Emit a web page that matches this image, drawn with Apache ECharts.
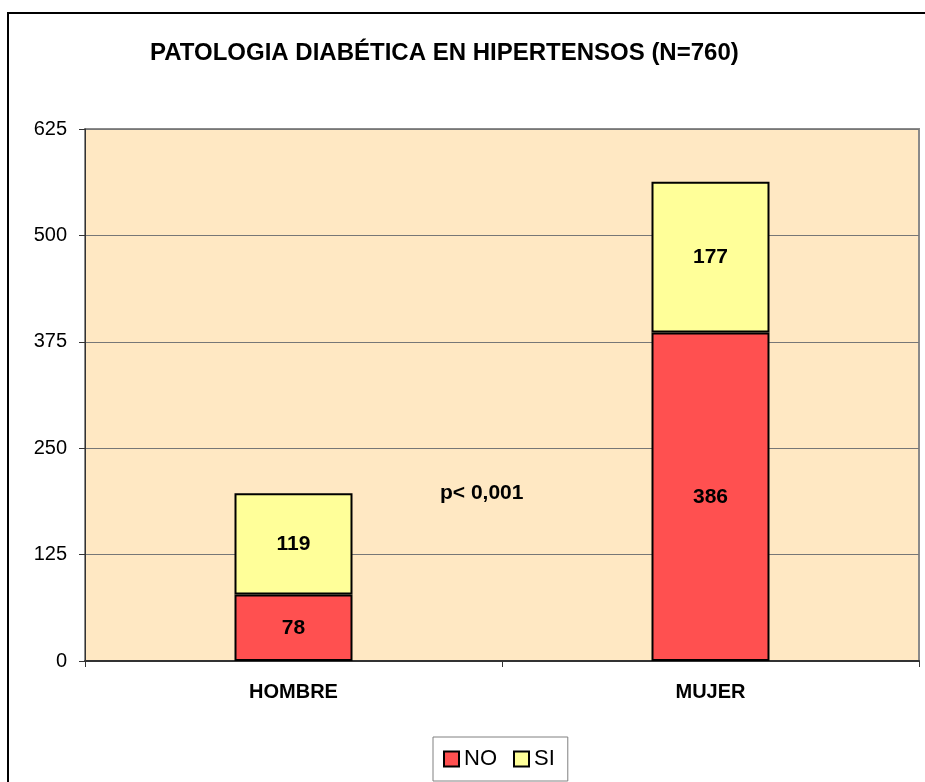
<!DOCTYPE html>
<html>
<head>
<meta charset="utf-8">
<title>Patologia diabética en hipertensos</title>
<script src="https://cdn.jsdelivr.net/npm/echarts@6/dist/echarts.min.js"></script>
<style>
  html, body { margin: 0; padding: 0; background: #fff; }
  #chart { width: 925px; height: 782px; }
</style>
</head>
<body>
<div id="chart"></div>
<script>
// datos
const categorias = ["HOMBRE", "MUJER"];
const serieNo = [78, 386];
const serieSi = [119, 177];
const ticksY = [0, 125, 250, 375, 500, 625];
const nota = "p< 0,001";

const fuente = "'Liberation Sans', Arial, sans-serif";

const chart = echarts.init(document.getElementById("chart"));

const options = {
  animation: false,
  backgroundColor: "#fff",
  title: {
    text: "PATOLOGIA DIABÉTICA EN HIPERTENSOS (N=760)",
    left: 145,
    top: 36,
    textStyle: { fontFamily: fuente, fontSize: 24, fontWeight: "bold", color: "#000" }
  },
  grid: {
    left: 85,
    right: 6,
    top: 129,
    bottom: 121,
    show: true,
    backgroundColor: "#FFE8C3",
    borderColor: "#8a8a8a",
    borderWidth: 2
  },
  legend: {
    left: 433,
    top: 737,
    padding: [11, 13, 11, 10],
    icon: "rect",
    itemWidth: 15,
    itemHeight: 15,
    itemGap: 16,
    borderColor: "#808080",
    borderWidth: 1,
    backgroundColor: "#fff",
    textStyle: { fontFamily: fuente, fontSize: 22, color: "#000" },
    itemStyle: { borderColor: "#000", borderWidth: 2 },
    data: ["NO", "SI"]
  },
  xAxis: {
    type: "category",
    data: categorias,
    axisLine: { lineStyle: { color: "#333", width: 2 } },
    axisTick: { show: true, length: 6, lineStyle: { color: "#333" } },
    axisLabel: {
      margin: 21,
      fontFamily: fuente,
      fontSize: 20,
      fontWeight: "bold",
      color: "#000"
    }
  },
  yAxis: {
    type: "value",
    min: ticksY[0],
    max: ticksY[ticksY.length - 1],
    interval: 125,
    axisLine: { show: true, lineStyle: { color: "#333", width: 1 } },
    axisTick: { show: true, length: 6, lineStyle: { color: "#333" } },
    axisLabel: { margin: 18, fontFamily: fuente, fontSize: 20, color: "#000" },
    splitLine: { show: true, lineStyle: { color: "#777", width: 1 } }
  },
  series: [
    {
      name: "NO",
      type: "bar",
      stack: "total",
      barWidth: 118,
      data: serieNo,
      itemStyle: { color: "#FF5050", borderColor: "#000", borderWidth: 2 },
      label: {
        show: true,
        position: "inside",
        fontFamily: fuente,
        fontSize: 21,
        fontWeight: "bold",
        color: "#000"
      }
    },
    {
      name: "SI",
      type: "bar",
      stack: "total",
      barWidth: 118,
      data: serieSi,
      itemStyle: { color: "#FFFF99", borderColor: "#000", borderWidth: 2 },
      label: {
        show: true,
        position: "inside",
        fontFamily: fuente,
        fontSize: 21,
        fontWeight: "bold",
        color: "#000"
      }
    }
  ],
  graphic: [
    {
      type: "rect",
      silent: true,
      shape: { x: 8, y: 13, width: 1000, height: 1000 },
      style: { fill: "none", stroke: "#000", lineWidth: 2 },
      z: 100
    },
    {
      type: "text",
      left: 440,
      top: 483,
      style: {
        text: nota,
        font: "bold 21px " + fuente,
        fill: "#000"
      }
    }
  ]
};

chart.setOption(options);

window.addEventListener("resize", () => {
  chart.resize();
});
</script>
</body>
</html>
